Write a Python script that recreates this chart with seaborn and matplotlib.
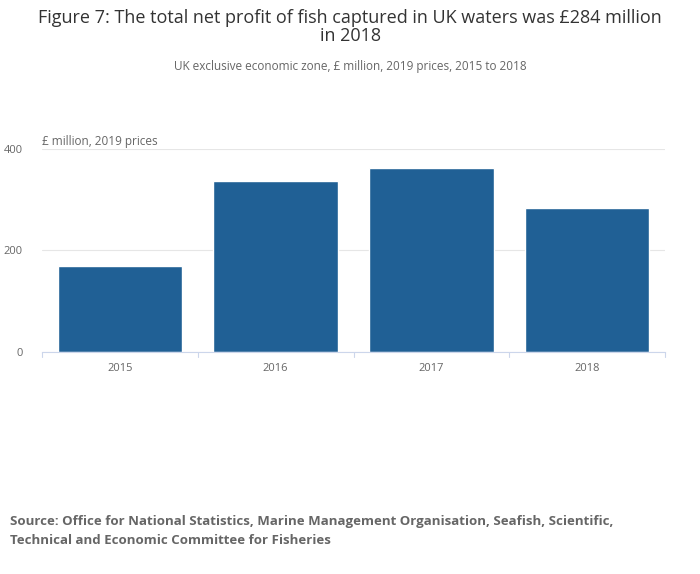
import matplotlib
matplotlib.use("Agg")
import matplotlib.pyplot as plt
import pandas as pd
import seaborn as sns

years = ["2015", "2016", "2017", "2018"]
profit = [170, 337, 363, 284]

sns.set_style("white")
plt.rcParams["font.family"] = ["Open Sans", "DejaVu Sans"]

df = pd.DataFrame({"year": years, "profit": profit})

fig = plt.figure(figsize=(7, 5.74), dpi=100)
ax = fig.add_axes([0.06, 0.3868, 0.89, 0.3537])
sns.barplot(data=df, x="year", y="profit", color="#206095", width=0.8,
            saturation=1, ax=ax)

ax.set_xlim(-0.5, 3.5)
ax.set_ylim(0, 400)
ax.set_yticks([0, 200, 400])
ax.set_yticklabels(["0", "200", "400"], fontsize=8, color="#666666")
ax.yaxis.grid(True, color="#e6e6e6", linewidth=0.8)
ax.set_axisbelow(True)
ax.tick_params(axis="y", length=0, pad=14)
ax.tick_params(axis="x", length=0, labelsize=8, labelcolor="#666666", pad=8)
for x in [-0.5, 0.5, 1.5, 2.5, 3.5]:
    ax.plot([x, x], [0, -10], color="#ccd6eb", lw=0.8, clip_on=False)
for s in ["top", "right", "left"]:
    ax.spines[s].set_visible(False)
ax.spines["bottom"].set_color("#ccd6eb")
ax.set_xlabel("")
ax.set_ylabel("")

fig.text(0.5, 0.985, "Figure 7: The total net profit of fish captured in UK waters was £284 million\nin 2018",
         ha="center", va="top", fontsize=13, color="#333333", linespacing=1.0)
fig.text(0.5, 0.895, "UK exclusive economic zone, £ million, 2019 prices, 2015 to 2018",
         ha="center", va="top", fontsize=8.5, color="#666666")
fig.text(0.06, 0.742, "£ million, 2019 prices", ha="left", va="bottom",
         fontsize=8.5, color="#666666")
fig.text(0.014, 0.075, "Source: Office for National Statistics, Marine Management Organisation, Seafish, Scientific,\nTechnical and Economic Committee for Fisheries",
         ha="left", va="center", fontsize=9.5, fontweight="bold", color="#666666",
         linespacing=1.6)

fig.savefig("out.png", dpi=100)
